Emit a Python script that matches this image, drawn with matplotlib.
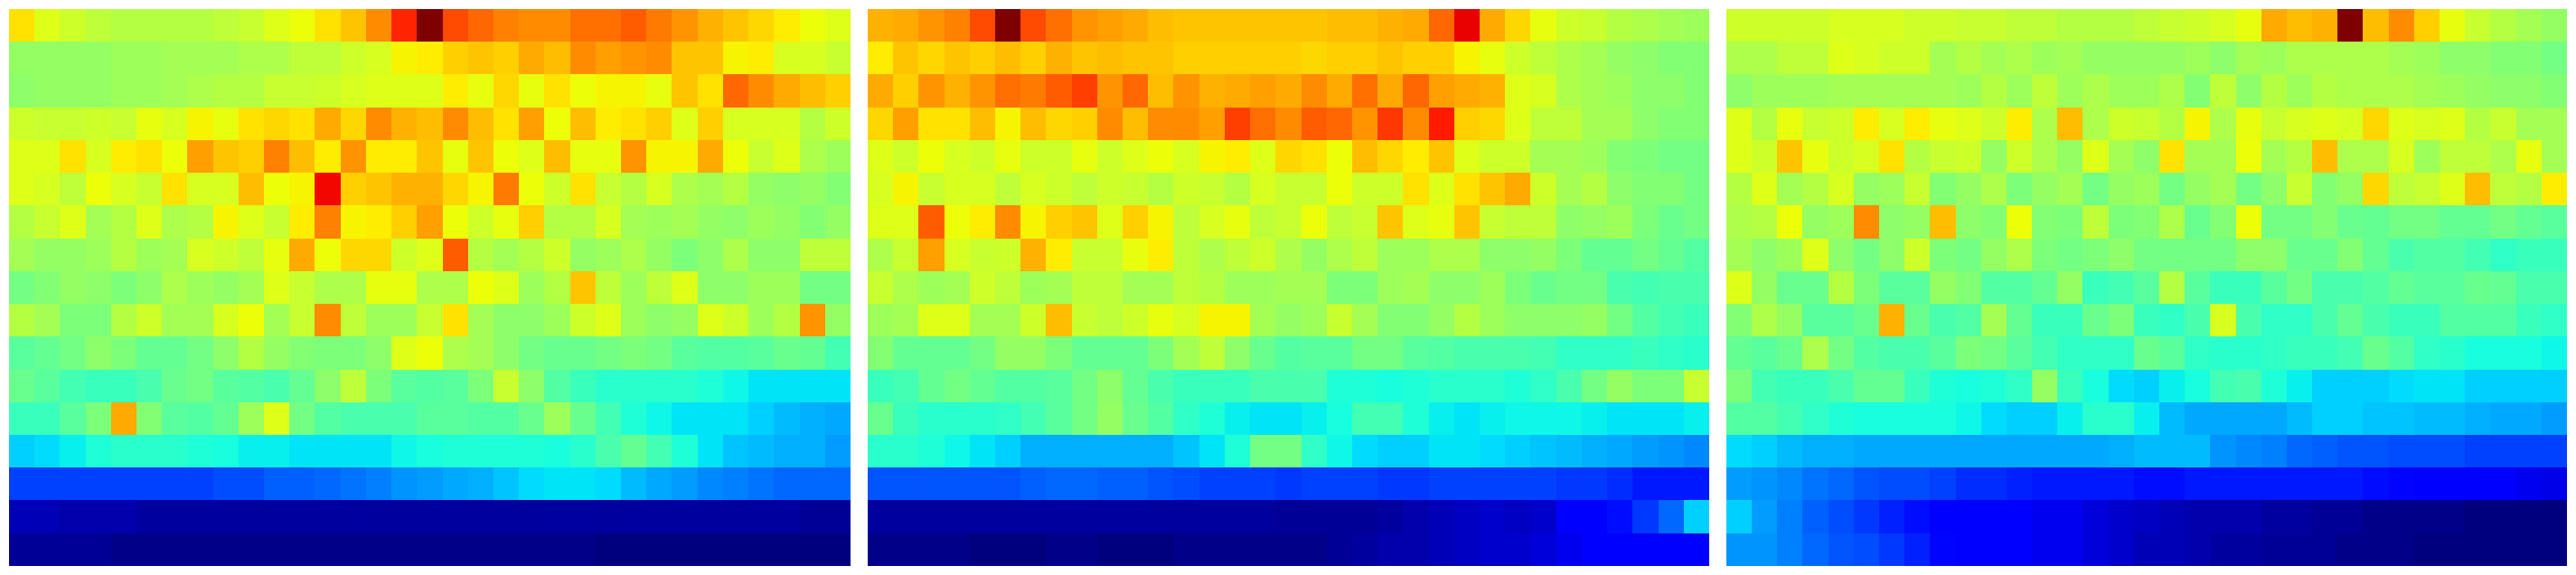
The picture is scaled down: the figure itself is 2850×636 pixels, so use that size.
import numpy as np
import matplotlib
matplotlib.use("Agg")
import matplotlib.pyplot as plt

# values, in percent of the colour range
panel_a = [
    [67,62,60,58,57,57,57,57,58,59,62,64,67,70,76,87,100, 83,80,77,76,76,79,79,81,78,75,72,70,68,66,64,62],
    [53,53,53,53,54,54,55,55,55,56,56,58,58,60,61,65,66, 69,70,69,73,71,76,74,75,76,70,70,65,66,61,61,59],
    [52,53,53,53,54,54,55,56,57,57,59,59,60,61,62,62,62, 66,63,68,63,67,64,65,65,63,70,67,80,76,73,71,69],
    [60,59,59,60,59,63,61,65,63,67,68,67,73,68,76,72,71, 76,71,67,74,64,71,66,67,69,62,69,61,61,61,57,60],
    [62,62,67,61,66,67,64,74,70,69,77,71,66,75,66,66,70, 63,70,64,62,71,63,63,75,65,65,73,64,59,62,56,54],
    [62,61,58,64,61,59,67,61,61,71,64,65,90,69,70,72,72, 68,65,78,64,60,67,59,57,61,56,55,57,53,52,53,51],
    [57,59,62,55,57,62,56,57,65,62,59,66,77,65,66,69,74, 64,60,63,69,57,57,61,55,54,55,53,52,54,53,51,53],
    [55,53,53,54,57,54,55,61,60,58,63,73,64,68,68,60,62, 81,57,55,57,60,53,54,56,53,50,52,56,52,52,58,58],
    [49,51,53,52,50,52,56,54,53,55,62,59,56,56,63,63,56, 56,64,62,54,57,70,58,54,58,62,52,52,54,54,49,49],
    [57,55,50,50,57,60,55,55,61,64,55,59,76,58,54,54,59, 67,55,52,52,54,60,62,54,52,53,62,60,54,57,75,53],
    [46,47,49,52,50,47,47,49,52,57,53,51,50,50,52,62,64, 56,55,52,49,48,48,49,50,49,46,45,45,46,48,47,43],
    [48,46,43,42,42,44,48,49,46,45,44,47,52,58,50,46,45, 46,50,59,52,45,42,40,40,40,40,39,37,35,35,35,35],
    [42,42,46,50,73,51,46,45,47,54,62,49,45,44,44,44,46, 46,45,45,48,54,48,43,39,37,35,35,35,33,31,30,29],
    [33,34,36,39,40,40,40,39,38,36,36,35,35,35,35,37,38, 39,39,39,39,38,40,44,47,43,39,35,32,31,30,30,28],
    [19,19,19,19,19,19,19,19,20,20,22,22,23,24,25,27,28, 29,30,32,34,35,35,34,31,29,28,26,25,24,23,23,23],
    [5,5,4,4,4,3,3,3,3,3,3,3,3,3,3,3,3, 3,3,3,3,3,3,3,3,3,3,3,3,3,3,2,2],
    [2,2,2,2,1,1,1,1,1,1,1,1,1,1,1,1,1, 1,1,1,1,1,1,0,0,0,0,0,0,0,0,0,0],
]

panel_b = [
    [72,73,75,77,83,100,83,79,75,74,73,71,70,70,70,70,70, 70,71,71,72,73,80,91,73,68,63,60,59,57,56,55,54],
    [66,70,68,70,69,71,69,72,70,71,70,70,69,69,69,69,69, 68,69,69,70,69,69,65,63,60,58,56,55,53,52,51,51],
    [73,69,75,72,75,79,78,81,84,75,80,71,75,72,73,74,73, 76,73,79,73,80,74,73,72,62,61,56,55,54,52,52,51],
    [68,74,67,67,71,65,71,68,69,76,71,76,76,74,84,79,76, 81,80,75,85,76,88,69,68,62,58,58,55,55,52,51,51],
    [62,60,64,61,60,63,60,60,63,60,62,64,61,65,66,62,68, 67,64,71,68,66,70,62,60,60,55,55,54,51,50,49,49],
    [61,65,59,61,61,58,61,60,58,60,59,57,60,59,57,61,59, 59,64,60,60,67,62,67,70,73,60,55,57,52,51,51,49],
    [62,62,81,64,66,76,65,69,70,62,69,65,58,61,63,58,59, 64,58,59,70,62,63,70,59,58,58,52,53,54,50,48,49],
    [56,59,74,61,59,60,72,66,59,59,63,66,58,56,58,60,56, 53,56,58,54,54,56,56,52,52,53,50,47,47,49,47,45],
    [59,56,54,55,60,58,54,55,58,58,55,55,58,57,54,54,55, 55,50,50,54,55,52,52,54,50,48,49,49,44,43,44,44],
    [54,55,62,62,55,55,60,71,59,58,60,63,61,65,65,55,53, 54,59,55,51,51,53,57,54,52,52,52,53,49,45,43,42],
    [51,47,47,47,49,53,53,50,47,47,47,50,55,58,52,48,45, 46,46,49,49,46,45,44,44,44,43,41,41,41,42,41,40],
    [42,43,47,49,47,45,45,46,49,52,47,44,42,42,42,44,44, 44,39,39,38,39,40,40,40,39,41,44,49,53,50,50,59],
    [48,42,40,40,40,41,43,46,49,53,48,45,41,39,36,35,35, 36,38,43,43,39,36,35,36,37,37,37,36,35,35,35,36],
    [40,40,39,37,35,33,30,30,30,30,30,30,32,35,39,49,49, 41,37,34,33,33,35,35,34,33,32,31,30,29,28,27,26],
    [21,21,21,21,21,21,22,23,23,22,22,21,20,19,19,19,18, 19,19,19,18,18,19,19,19,19,19,18,18,17,15,15,15],
    [3,3,3,3,3,3,3,3,3,3,3,3,3,3,3,3,2, 2,2,2,3,4,5,6,7,6,7,11,11,14,18,23,33],
    [1,1,1,1,0,0,0,1,1,0,0,0,1,1,1,1,1, 1,2,3,4,4,5,6,7,7,8,10,11,11,11,11,11],
]

panel_c = [
    [60,60,60,60,61,61,61,60,60,59,59,58,58,57,57,57,58, 59,60,61,63,73,71,72,100,71,76,69,63,59,57,55,53],
    [56,56,58,58,62,61,60,60,55,57,55,56,54,55,53,53,53, 53,54,52,55,54,56,56,56,56,55,54,52,52,51,51,49],
    [52,54,54,54,55,55,55,55,55,54,57,54,58,54,56,54,54, 56,51,58,52,57,54,57,56,56,56,55,54,53,52,52,51],
    [62,57,63,59,60,66,61,66,63,62,60,66,56,71,56,60,59, 57,65,56,63,59,61,62,61,68,62,61,62,57,59,55,55],
    [62,60,70,63,60,61,67,57,59,60,53,60,56,53,62,55,52, 67,55,55,64,55,57,71,56,56,61,54,58,58,56,63,55],
    [57,62,55,57,61,53,54,59,51,53,56,50,53,55,49,53,54, 49,53,55,49,52,59,51,53,68,58,59,62,71,58,57,66],
    [56,57,64,53,54,76,52,53,71,52,51,64,51,50,58,50,51, 56,48,51,64,49,49,51,48,47,49,49,47,47,49,47,46],
    [55,52,54,62,52,49,52,60,50,49,53,56,50,49,50,52,49, 49,49,49,52,52,48,48,51,47,44,45,45,43,41,42,42],
    [62,53,48,48,57,50,46,46,53,51,45,45,47,53,42,43,46, 57,46,42,42,46,49,44,44,45,47,46,46,48,47,44,44],
    [51,56,53,46,46,48,72,48,44,45,55,47,42,42,48,50,42, 41,44,61,44,41,41,44,47,44,42,42,45,45,45,42,41],
    [47,46,48,56,49,45,44,44,46,50,49,46,43,41,41,41,48, 46,41,40,40,41,42,42,43,48,45,41,40,38,38,38,37],
    [50,43,42,42,44,47,47,42,39,38,39,41,53,42,38,34,33, 36,38,43,44,39,36,33,33,33,34,35,35,33,33,33,33],
    [45,45,43,41,39,38,38,38,38,37,34,33,33,36,40,40,36, 31,29,29,29,29,31,33,33,32,32,31,31,30,29,29,28],
    [34,33,31,30,30,29,29,29,29,29,29,29,29,29,29,30,31, 31,31,27,26,25,23,22,21,21,20,20,20,19,19,19,19],
    [28,27,26,24,23,21,20,20,19,17,17,16,15,15,15,15,14, 14,15,15,15,15,15,15,15,14,13,12,11,11,11,10,9],
    [33,28,25,22,20,18,16,14,12,11,11,11,10,10,8,7,6, 5,4,4,4,3,3,2,2,1,1,1,1,0,0,0,0],
    [27,27,25,23,21,20,18,16,13,11,11,11,10,10,8,7,5, 5,4,3,3,2,2,2,1,1,1,0,0,0,0,0,0],
]

panels = [panel_a, panel_b, panel_c]
left_edges = [10, 960, 1910]  # pixels

fig = plt.figure(figsize=(28.5, 6.36), dpi=100)
for data, x0 in zip(panels, left_edges):
    ax = fig.add_axes([x0 / 2850, 1 - 626 / 636, 930 / 2850, 616 / 636])
    ax.imshow(np.array(data), cmap='jet', vmin=0, vmax=100, aspect='auto', interpolation='nearest')
    ax.axis('off')

fig.savefig('out.png', dpi=100)
